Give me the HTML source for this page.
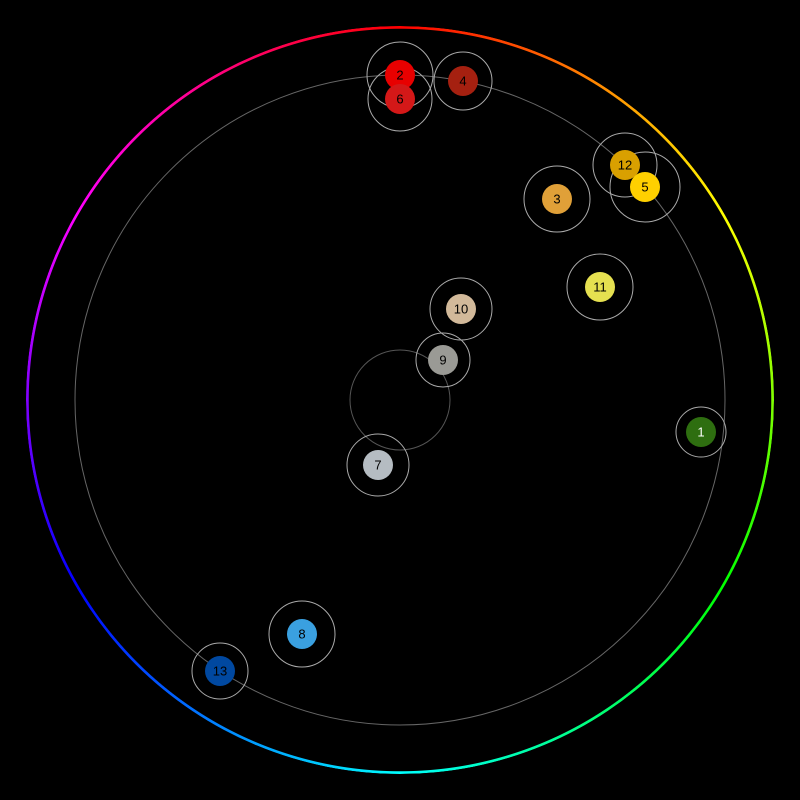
<!DOCTYPE html>
<html><head><meta charset="utf-8"><style>
html,body{margin:0;padding:0;background:#000;width:800px;height:800px;overflow:hidden}
#ring{position:absolute;left:26px;top:26px;width:748px;height:748px;border-radius:50%;
background:conic-gradient(from 0deg,#f00,#ff8000,#ff0,#80ff00,#0f0,#00ff80,#0ff,#0080ff,#00f,#8000ff,#f0f,#ff0080,#f00);
-webkit-mask:radial-gradient(circle,transparent 371px,#000 371.5px,#000 374px,transparent 374.5px);
mask:radial-gradient(circle,transparent 371px,#000 371.5px,#000 374px,transparent 374.5px)}
svg{position:absolute;left:0;top:0}
text{font-family:"Liberation Sans",sans-serif;font-size:13px;text-anchor:middle;dominant-baseline:central;fill:#000}
</style></head><body>
<div id="ring"></div>
<svg width="800" height="800">
<circle cx="400" cy="400" r="325" fill="none" stroke="#666" stroke-width="1"/>
<circle cx="400" cy="400" r="50" fill="none" stroke="#555" stroke-width="1"/>
<g fill="none" stroke="#aaa" stroke-width="1">
<circle cx="400" cy="75" r="33"/><circle cx="400" cy="99" r="32"/><circle cx="463" cy="81" r="29"/>
<circle cx="625" cy="165" r="32"/><circle cx="645" cy="187" r="35"/><circle cx="557" cy="199" r="33"/>
<circle cx="600" cy="287" r="33"/><circle cx="461" cy="309" r="31"/><circle cx="443" cy="360" r="27"/>
<circle cx="378" cy="465" r="31"/><circle cx="302" cy="634" r="33"/><circle cx="220" cy="671" r="28"/>
<circle cx="701" cy="432" r="25"/>
</g>
<circle cx="400" cy="75" r="15" fill="#e80000"/><text x="400" y="75">2</text>
<circle cx="400" cy="99" r="15" fill="#d41818"/><text x="400" y="99">6</text>
<circle cx="463" cy="81" r="15" fill="#a52010"/><text x="463" y="81">4</text>
<circle cx="625" cy="165" r="15" fill="#d9a000"/><text x="625" y="165">12</text>
<circle cx="645" cy="187" r="15" fill="#ffd000"/><text x="645" y="187">5</text>
<circle cx="557" cy="199" r="15" fill="#e0a038"/><text x="557" y="199">3</text>
<circle cx="600" cy="287" r="15" fill="#e5e050"/><text x="600" y="287">11</text>
<circle cx="461" cy="309" r="15" fill="#d2b99a"/><text x="461" y="309">10</text>
<circle cx="443" cy="360" r="15" fill="#9a9a95"/><text x="443" y="360">9</text>
<circle cx="378" cy="465" r="15" fill="#b5bcc2"/><text x="378" y="465">7</text>
<circle cx="302" cy="634" r="15" fill="#3aa0e0"/><text x="302" y="634">8</text>
<circle cx="220" cy="671" r="15" fill="#0048a0"/><text x="220" y="671">13</text>
<circle cx="701" cy="432" r="15" fill="#2e6e10"/><text x="701" y="432" style="fill:#fff">1</text>
</svg>
</body></html>
